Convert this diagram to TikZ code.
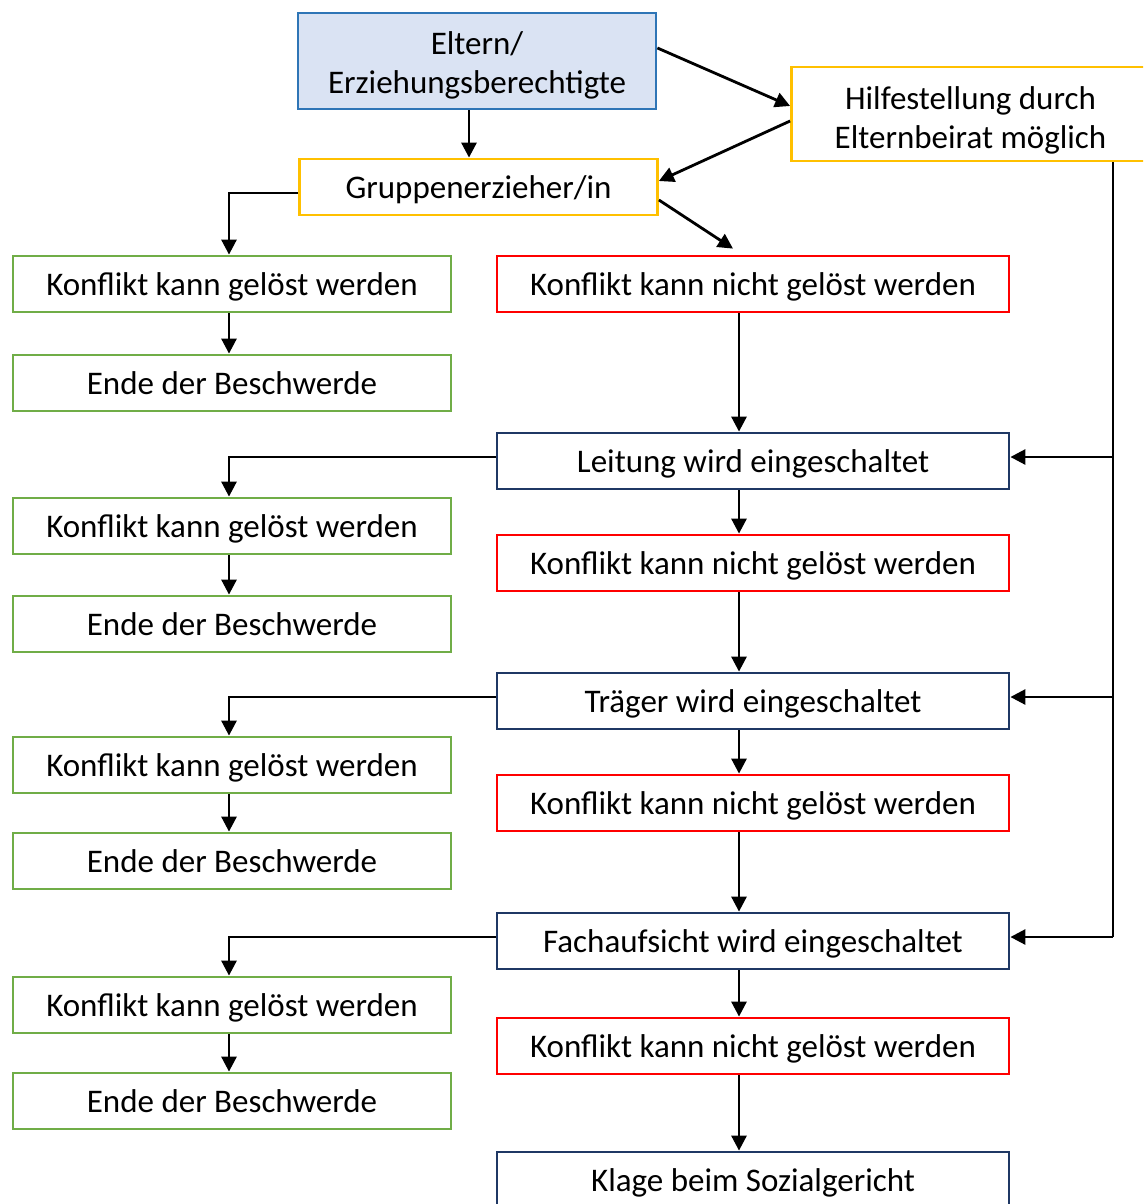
\documentclass[tikz,border=0pt]{standalone}
\usepackage{fontspec}
\setmainfont{Carlito}
\usetikzlibrary{
	arrows.meta,
	calc
}

\definecolor{elternblue}{HTML}{2E75B6}
\definecolor{elternfill}{HTML}{DAE3F3}
\definecolor{hilfeorange}{HTML}{FFC000}
\definecolor{loesgreen}{HTML}{70AD47}
\definecolor{nichtred}{HTML}{FF0000}
\definecolor{stufenavy}{HTML}{1F3864}

\tikzset{
    box/.style={draw, line width=2.8pt, align=center, inner sep=0pt,
                text height=22pt, text depth=0pt,
                font=\fontsize{33}{39}\selectfont},
    eltbox/.style={box, draw=elternblue, fill=elternfill, minimum width=358pt, minimum height=96pt},
    hilfebox/.style={box, draw=hilfeorange, minimum width=358pt, minimum height=56pt},
    loesbox/.style={box, draw=loesgreen, minimum width=438pt, minimum height=56pt},
    nichtbox/.style={box, draw=nichtred, minimum width=512pt, minimum height=56pt},
    stufebox/.style={box, draw=stufenavy, minimum width=512pt, minimum height=56pt},
    arr/.style={-{Triangle[length=15pt,width=15pt]}, line width=2.8pt}
}

\begin{document}
\begin{tikzpicture}[x=1pt, y=-1pt]
    \useasboundingbox (0,0) rectangle (1143,1204);
    \clip (0,0) rectangle (1143,1204);
    % Top
    \node[eltbox, text height=66pt] (eltern) at (477,61) {Eltern/\\Erziehungsberechtigte};
    \node[hilfebox, minimum height=94pt, text height=68pt] (hilfe) at (970.5,114) {Hilfestellung durch\\Elternbeirat möglich};
    \node[hilfebox] (gruppen) at (478.5,187) {Gruppenerzieher/in};
    % Left column
    \node[loesbox] (kg1) at (232,284) {Konflikt kann gelöst werden};
    \node[loesbox] (eb1) at (232,383) {Ende der Beschwerde};
    \node[loesbox] (kg2) at (232,526) {Konflikt kann gelöst werden};
    \node[loesbox] (eb2) at (232,624) {Ende der Beschwerde};
    \node[loesbox] (kg3) at (232,765) {Konflikt kann gelöst werden};
    \node[loesbox] (eb3) at (232,861) {Ende der Beschwerde};
    \node[loesbox] (kg4) at (232,1005) {Konflikt kann gelöst werden};
    \node[loesbox] (eb4) at (232,1101) {Ende der Beschwerde};
    % Right column
    \node[nichtbox] (kn1)     at (753,284)  {Konflikt kann nicht gelöst werden};
    \node[stufebox] (leitung) at (753,461)  {Leitung wird eingeschaltet};
    \node[nichtbox] (kn2)     at (753,563)  {Konflikt kann nicht gelöst werden};
    \node[stufebox] (traeger) at (753,701)  {Träger wird eingeschaltet};
    \node[nichtbox] (kn3)     at (753,803)  {Konflikt kann nicht gelöst werden};
    \node[stufebox] (fach)    at (753,941)  {Fachaufsicht wird eingeschaltet};
    \node[nichtbox] (kn4)     at (753,1046) {Konflikt kann nicht gelöst werden};
    \node[stufebox] (klage)   at (753,1180) {Klage beim Sozialgericht};
    % Helper columns for the connectors
    \coordinate (topx)  at (469,0);
    \coordinate (leftx) at (229,0);
    \coordinate (mainx) at (739,0);
    \coordinate (rail)  at (1113,937);
    % Arrows at the top
    \draw[arr] (eltern.south -| topx) -- (gruppen.north -| topx);
    \draw[arr] ($(eltern.east)+(0,-13)$) -- ($(hilfe.west)+(0,-8)$);
    \draw[arr] ($(hilfe.west)+(0,7)$) -- ($(gruppen.east)+(0,-6)$);
    \draw[arr] ($(gruppen.east)+(0,13)$) -- ($(kn1.north)+(-20,-6)$);
    % Left branches
    \draw[arr] ($(gruppen.west)+(0,6)$)  -| (kg1.north -| leftx);
    \draw[arr] ($(leitung.west)+(0,-4)$) -| (kg2.north -| leftx);
    \draw[arr] ($(traeger.west)+(0,-4)$) -| (kg3.north -| leftx);
    \draw[arr] ($(fach.west)+(0,-4)$)    -| (kg4.north -| leftx);
    \draw[arr] (kg1.south -| leftx) -- (eb1.north -| leftx);
    \draw[arr] (kg2.south -| leftx) -- (eb2.north -| leftx);
    \draw[arr] (kg3.south -| leftx) -- (eb3.north -| leftx);
    \draw[arr] (kg4.south -| leftx) -- (eb4.north -| leftx);
    % Main line
    \draw[arr] (kn1.south -| mainx)     -- (leitung.north -| mainx);
    \draw[arr] (leitung.south -| mainx) -- (kn2.north -| mainx);
    \draw[arr] (kn2.south -| mainx)     -- (traeger.north -| mainx);
    \draw[arr] (traeger.south -| mainx) -- (kn3.north -| mainx);
    \draw[arr] (kn3.south -| mainx)     -- (fach.north -| mainx);
    \draw[arr] (fach.south -| mainx)    -- (kn4.north -| mainx);
    \draw[arr] (kn4.south -| mainx)     -- (klage.north -| mainx);
    % Elternbeirat rail
    \draw[line width=2.8pt] (hilfe.south -| rail) -- (rail);
    \draw[arr] ($(leitung.east -| rail)+(0,-4)$) -- ($(leitung.east)+(0,-4)$);
    \draw[arr] ($(traeger.east -| rail)+(0,-4)$) -- ($(traeger.east)+(0,-4)$);
    \draw[arr] (rail) -- (rail -| fach.east);
\end{tikzpicture}
\end{document}
